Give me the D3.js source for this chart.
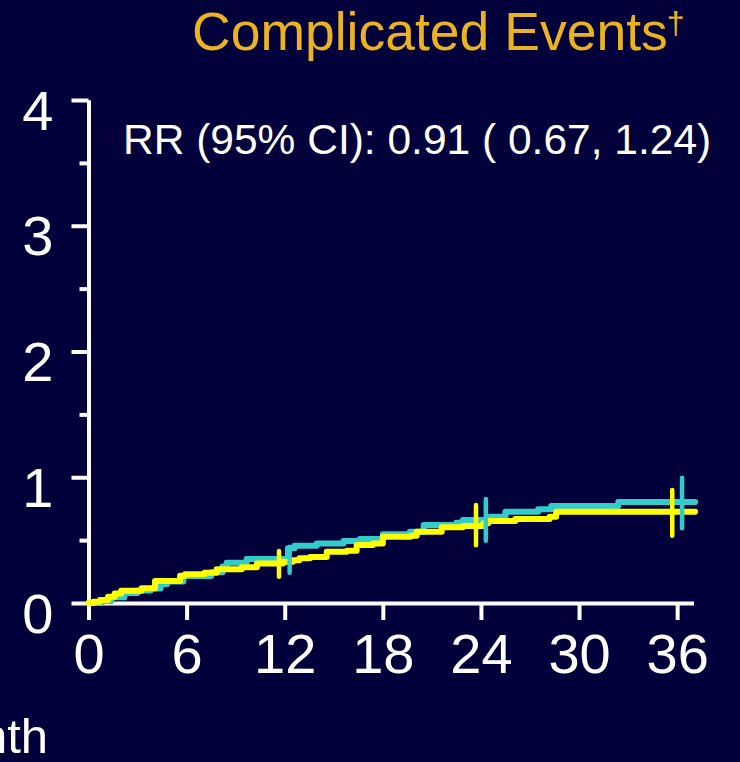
<!DOCTYPE html>
<html>
<head>
<meta charset="utf-8">
<script src="https://cdn.jsdelivr.net/npm/d3@7"></script>
<style>
  html, body { margin: 0; padding: 0; background: #01003a; }
  svg { display: block; }
  .axis path, .axis line { stroke: #fff; stroke-width: 4; }
  .axis text { fill: #fff; font-family: "Liberation Sans", Arial, sans-serif; font-size: 56px; }
</style>
</head>
<body>
<div id="viz"></div>
<script>
// cumulative event rate (months, value)
var tealTimes  = [0, 0.8, 1.4, 2.2, 3.0, 3.8, 4.4, 4.8, 5.8, 7.5, 8.2, 8.45, 9.67, 12.2, 12.6, 13.96, 15.6, 16.6, 18.0, 19.66, 20.5, 22.5, 22.9, 24.56, 25.5, 27.5, 28.3, 32.4, 37.1];
var tealRates  = [0, 0.015, 0.045, 0.08, 0.10, 0.115, 0.15, 0.17, 0.215, 0.245, 0.29, 0.32, 0.35, 0.435, 0.456, 0.474, 0.493, 0.509, 0.546, 0.567, 0.62, 0.639, 0.66, 0.686, 0.726, 0.745, 0.771, 0.803, 0.803];
var yellowTimes = [0, 0.3, 0.7, 1.2, 1.6, 2.0, 3.25, 4.07, 5.6, 5.9, 7.1, 7.84, 9.37, 10.3, 11.9, 12.5, 12.9, 13.55, 14.57, 15.8, 16.4, 17.4, 18.0, 19.7, 20.07, 21.6, 22.9, 24.15, 24.45, 26.1, 28.2, 28.6, 37.1];
var yellowRates = [0, 0.01, 0.024, 0.05, 0.075, 0.098, 0.117, 0.175, 0.217, 0.228, 0.241, 0.268, 0.284, 0.315, 0.328, 0.34, 0.355, 0.365, 0.408, 0.416, 0.461, 0.474, 0.527, 0.535, 0.567, 0.602, 0.612, 0.634, 0.652, 0.668, 0.686, 0.726, 0.726];

// 95% CI bars at 12, 24, 36 months (nudged apart so they don't overlap)
var tealCiTimes = [12.3, 24.3, 36.3];
var tealCiLow   = [0.241, 0.495, 0.594];
var tealCiHigh  = [0.448, 0.827, 0.996];
var yellowCiTimes = [11.65, 23.7, 35.7];
var yellowCiLow   = [0.209, 0.46, 0.535];
var yellowCiHigh  = [0.413, 0.78, 0.899];

var xTicks = [0, 6, 12, 18, 24, 30, 36];
var yTicks = [0, 1, 2, 3, 4];
var yMinorTicks = [0.5, 1.5, 2.5, 3.5];

var titleText = 'Complicated Events';
var rrText = 'RR (95% CI): 0.91 ( 0.67, 1.24)';

var svg = d3.select('#viz').append('svg')
  .attr('width', 740)
  .attr('height', 762);

svg.append('rect').attr('width', 740).attr('height', 762).attr('fill', '#01003a');

var x = d3.scaleLinear().domain([0, 37]).range([88.5, 693.5]);
var y = d3.scaleLinear().domain([0, 4]).range([603, 100]);

// title
var title = svg.append('text')
  .attr('x', 192)
  .attr('y', 50)
  .attr('fill', '#eab31f')
  .style('font-family', '"Liberation Sans", Arial, sans-serif')
  .style('font-size', '53.5px')
  .text(titleText);
title.append('tspan')
  .attr('dx', -1)
  .attr('dy', -16)
  .style('font-size', '32px')
  .text('\u2020');

// y axis, minor ticks first
svg.append('g')
  .attr('class', 'axis')
  .attr('transform', 'translate(' + x(0) + ',0)')
  .call(d3.axisLeft(y).tickValues(yMinorTicks).tickSize(9).tickSizeOuter(0).tickFormat(''));

var yAxis = svg.append('g')
  .attr('class', 'axis')
  .attr('transform', 'translate(' + x(0) + ',0)')
  .call(d3.axisLeft(y).tickValues(yTicks).tickSize(17).tickSizeOuter(0).tickPadding(18).tickFormat(d3.format('d')));
yAxis.selectAll('text').attr('dy', 29);

// x axis
var xAxis = svg.append('g')
  .attr('class', 'axis')
  .attr('transform', 'translate(0,' + y(0) + ')')
  .call(d3.axisBottom(x).tickValues(xTicks).tickSize(17).tickSizeOuter(0).tickFormat(d3.format('d')));
xAxis.selectAll('text').attr('y', 70).attr('dy', 0);
xAxis.selectAll('.tick line').attr('stroke-width', 3.5);

// left panel's axis title, cut off by the edge
svg.append('text')
  .attr('x', 48)
  .attr('y', 753)
  .attr('text-anchor', 'end')
  .attr('fill', '#fff')
  .style('font-family', '"Liberation Sans", Arial, sans-serif')
  .style('font-size', '49px')
  .text('Month');

// RR annotation
svg.append('text')
  .attr('x', 123)
  .attr('y', 154)
  .attr('fill', '#fff')
  .style('font-family', '"Liberation Sans", Arial, sans-serif')
  .style('font-size', '42.5px')
  .text(rrText);

var line = d3.line()
  .x(function (d) { return x(d[0]); })
  .y(function (d) { return y(d[1]); })
  .curve(d3.curveStepAfter);

function drawCurve(times, rates, color) {
  var pts = times.map(function (t, i) { return [t, rates[i]]; });
  svg.append('path')
    .datum(pts)
    .attr('d', line)
    .attr('fill', 'none')
    .attr('stroke', color)
    .attr('stroke-width', 6)
    .attr('stroke-linejoin', 'round')
    .attr('stroke-linecap', 'round');
}

function drawCi(times, lows, highs, color) {
  svg.selectAll(null)
    .data(times)
    .enter()
    .append('line')
    .attr('x1', function (d) { return x(d); })
    .attr('x2', function (d) { return x(d); })
    .attr('y1', function (d, i) { return y(lows[i]); })
    .attr('y2', function (d, i) { return y(highs[i]); })
    .attr('stroke', color)
    .attr('stroke-width', 4.5)
    .attr('stroke-linecap', 'round');
}

drawCurve(tealTimes, tealRates, '#33cccc');
drawCurve(yellowTimes, yellowRates, '#ffff00');
drawCi(tealCiTimes, tealCiLow, tealCiHigh, '#33cccc');
drawCi(yellowCiTimes, yellowCiLow, yellowCiHigh, '#ffff00');
</script>
</body>
</html>
